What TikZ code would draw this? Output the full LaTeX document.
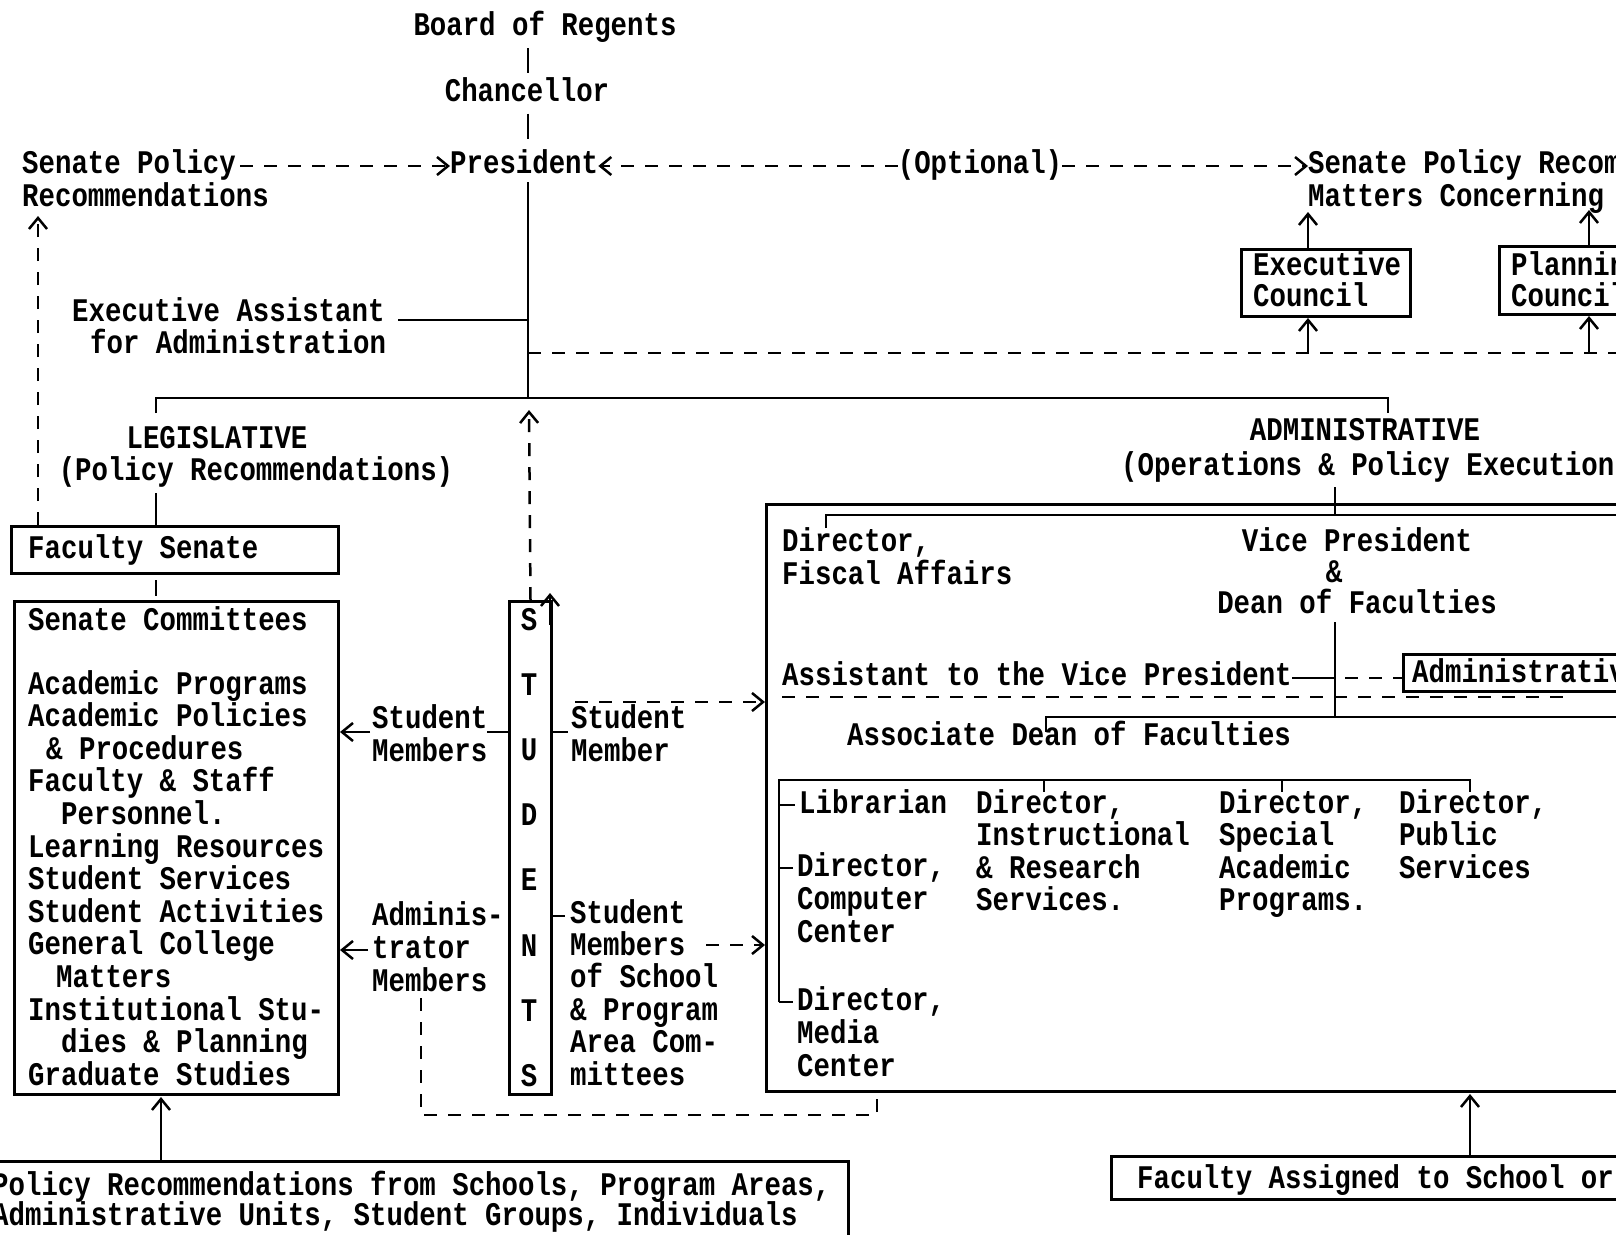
\documentclass[tikz,border=0pt]{standalone}
\usepackage{fontspec}
\usetikzlibrary{arrows.meta}
\newfontfamily\twfont{Liberation Mono}[FakeStretch=0.83]
\newcommand\tw{\twfont\bfseries\fontsize{33}{33}\selectfont}
\newcommand\twp[1]{\twfont\bfseries\fontsize{33}{#1}\selectfont}
% multi-line block: first line's baseline is the block's baseline, fixed line spacing
\newcommand\tl[1]{\vtop{\lineskiplimit=-100pt\relax\lineskip=0pt\relax\let\\\cr\halign{##\hfil\cr#1\crcr}}}
\newcommand\tlc[1]{\vtop{\lineskiplimit=-100pt\relax\lineskip=0pt\relax\let\\\cr\halign{\hfil##\hfil\cr#1\crcr}}}
\tikzset{
  txt/.style={font=\tw, inner sep=0pt, anchor=base west},
  ctxt/.style={font=\tw, inner sep=0pt, anchor=base},
  box/.style={draw, line width=3pt, inner sep=0pt, anchor=north west},
  ln/.style={line width=2.5pt},
  dsh/.style={line width=2.5pt, dash pattern=on 13pt off 11pt},
  arr/.style={-{Straight Barb[length=11pt,width=18pt,line width=2.5pt]}},
}
\begin{document}
\begin{tikzpicture}[x={(1pt,0)}, y={(0,-1pt)}]
\useasboundingbox (0,0) rectangle (1616,1234);
\clip (0,0) rectangle (1616,1234);

% ---------- boxes ----------
\node[box, minimum width=327, minimum height=47] (fsen) at (10,525) {};
\node[box, minimum width=324, minimum height=493] (scom) at (13,600) {};
\node[box, minimum width=42, minimum height=493] (stud) at (508,600) {};
\node[box, minimum width=900, minimum height=587] (adm) at (765,503) {};
\node[box, minimum width=169, minimum height=67] (exec) at (1240,248) {};
\node[box, minimum width=200, minimum height=68] (plan) at (1498,245) {};
\node[box, minimum width=300, minimum height=37] (admc) at (1402,653) {};
\node[box, minimum width=859, minimum height=90] (prec) at (-12,1160) {};
\node[box, minimum width=600, minimum height=43] (fass) at (1110,1155) {};

% ---------- top texts ----------
\node[ctxt] (bor) at (545,35) {Board of Regents};
\node[ctxt] (chan) at (527,101) {Chancellor};
\node[txt] (spl) at (22,173) {\tl{Senate Policy\\Recommendations}};
\node[txt] (pres) at (450,173) {President};
\node[ctxt] (opt) at (980,173) {(Optional)};
\node[txt] (spr) at (1308,173) {\tl{Senate Policy Recommendations\\Matters Concerning}};
\node[txt, font=\twp{31}] (exect) at (1253,275) {\tl{Executive\\Council}};
\node[txt, font=\twp{31}] (plant) at (1511,275) {\tl{Planning\\Council}};
\node[txt, font=\twp{32}] (eaa) at (72,321) {\tl{Executive Assistant\\\hspace{18pt}for Administration}};

\node[ctxt] (leg) at (217,448) {LEGISLATIVE};
\node[ctxt] (legp) at (256,480) {(Policy Recommendations)};
\node[ctxt] (admt) at (1365,440) {ADMINISTRATIVE};
\node[txt] (admp) at (1121,475) {(Operations \& Policy Execution)};

% ---------- legislative side ----------
\node[txt] (fsent) at (28,558) {Faculty Senate};
\node[txt] (scomt) at (28,630) {Senate Committees};
\node[txt, font=\twp{32.6}] (scl) at (28,694) {\tl{Academic Programs\\Academic Policies\\\hspace{18pt}\& Procedures\\Faculty \& Staff\\\hspace{33pt}Personnel.\\Learning Resources\\Student Services\\Student Activities\\General College\\\hspace{28pt}Matters\\Institutional Stu-\\\hspace{33pt}dies \& Planning\\Graduate Studies}};

% ---------- students column ----------
\node[ctxt] (s1) at (529,630) {S};
\node[ctxt] (s2) at (529,695) {T};
\node[ctxt] (s3) at (529,760) {U};
\node[ctxt] (s4) at (529,825) {D};
\node[ctxt] (s5) at (529,890) {E};
\node[ctxt] (s6) at (529,956) {N};
\node[ctxt] (s7) at (529,1021) {T};
\node[ctxt] (s8) at (529,1086) {S};

\node[txt] (smL) at (372,728) {\tl{Student\\Members}};
\node[txt] (smR) at (571,728) {\tl{Student\\Member}};
\node[txt] (amL) at (372,925) {\tl{Adminis-\\trator\\Members}};
\node[txt, font=\twp{32.4}] (smsR) at (570,923) {\tl{Student\\Members\\of School\\\& Program\\Area Com-\\mittees}};

% ---------- administrative box ----------
\node[txt, font=\twp{33}] (dfa) at (782,551) {\tl{Director,\\Fiscal Affairs}};
\node[ctxt, font=\twp{31}] (vpd) at (1357,551) {\tlc{Vice President\\\&\hspace{46pt}\\Dean of Faculties}};
\node[txt] (asst) at (782,685) {Assistant to the Vice President};
\node[txt] (admct) at (1412,682) {Administrative};
\node[txt] (assoc) at (847,745) {Associate Dean of Faculties};
\node[txt] (lib) at (799,813) {Librarian};
\node[txt] (dcc) at (797,876) {\tl{Director,\\Computer\\Center}};
\node[txt] (dmc) at (797,1010) {\tl{Director,\\Media\\Center}};
\node[txt, font=\twp{32.5}] (dirs) at (976,813) {\tl{Director,\\Instructional\\\& Research\\Services.}};
\node[txt, font=\twp{32.5}] (dsap) at (1219,813) {\tl{Director,\\Special\\Academic\\Programs.}};
\node[txt, font=\twp{32.5}] (dps) at (1399,813) {\tl{Director,\\Public\\Services}};

% ---------- bottom ----------
\node[txt, font=\twp{30}] (prect) at (-8,1195) {\tl{Policy Recommendations from Schools, Program Areas,\\Administrative Units, Student Groups, Individuals}};
\node[txt] (fasst) at (1137,1188) {Faculty Assigned to School or};

% ---------- connectors: top ----------
\draw[ln, shorten <=6pt, shorten >=4pt] (bor.south -| 528,0) -- (chan.north -| 528,0);
\draw[ln, shorten <=12pt, shorten >=10pt] (chan.south -| 528,0) -- (pres.north -| 528,0);
\coordinate (pv) at (528,182);
\coordinate (jb) at (528,398);
\draw[ln] (pv) -- (jb);
\draw[dsh, arr] (240,166) -- (pres.west |- 0,166);
\draw[dsh, arr] (opt.west |- 0,166) -- (pres.east |- 0,166);
\draw[dsh, arr] (opt.east |- 0,166) -- (spr.west |- 0,166);
\draw[ln] (398,320) -- (pv |- 0,320);
\draw[dsh] (pv |- 0,353) -- (1640,353);
\draw[ln, arr] (1308,353) -- (1308,318);
\draw[ln, arr] (1308,248) -- (1308,212);
\draw[ln, arr] (1589,353) -- (1589,316);
\draw[ln, arr] (1589,245) -- (1589,210);
\draw[dsh, arr] (fsen.north west -| 38,0) -- (38,216);

% brackets
\draw[ln] (156,413) -- (156,398) -- (jb) -- (1388,398) -- (1388,413);
\draw[ln] (156,493) -- (fsen.north -| 156,0);
\draw[line width=1.2pt] (156,580) -- (156,596);
\draw[ln] (1335,487) -- (1335,515);

% students
\draw[dsh, arr] (stud.north) -- (529,410);
\draw[ln, arr] (550,625) -- (550,593);
\draw[ln] (487,732) -- (stud.west |- 0,732);
\draw[ln, arr] (370,732) -- (scom.east |- 0,732);
\draw[ln] (stud.east |- 0,732) -- (568,732);
\draw[dsh, arr] (575,702) -- (adm.west |- 0,702);
\draw[ln, arr] (368,950) -- (scom.east |- 0,950);
\draw[dsh] (421,998) -- (421,1115) -- (877,1115) -- (877,1090);
\draw[ln] (stud.east |- 0,916) -- (565,916);
\draw[dsh, arr] (706,945) -- (adm.west |- 0,945);

% administrative internals
\draw[ln] (826,528) -- (826,515) -- (1640,515);
\draw[ln] (1335,622) -- (1335,717);
\draw[ln] (1046,732) -- (1046,717) -- (1640,717);
\draw[ln] (1292,678) -- (1335,678);
\draw[dsh] (1345,678) -- (admc.west |- 0,678);
\draw[dsh] (782,697) -- (1570,697) -- (admc.south -| 1570,0);
\draw[ln] (779,1002) -- (779,780) -- (1470,780) -- (1470,792);
\draw[ln] (1044,780) -- (1044,792);
\draw[ln] (1282,780) -- (1282,792);
\draw[ln] (779,805) -- (795,805);
\draw[ln] (779,868) -- (793,868);
\draw[ln] (779,1002) -- (793,1002);

% bottom arrows
\draw[ln, arr] (prec.north -| 161,0) -- (161,1097);
\draw[ln, arr] (fass.north -| 1470,0) -- (1470,1094);
\end{tikzpicture}
\end{document}
